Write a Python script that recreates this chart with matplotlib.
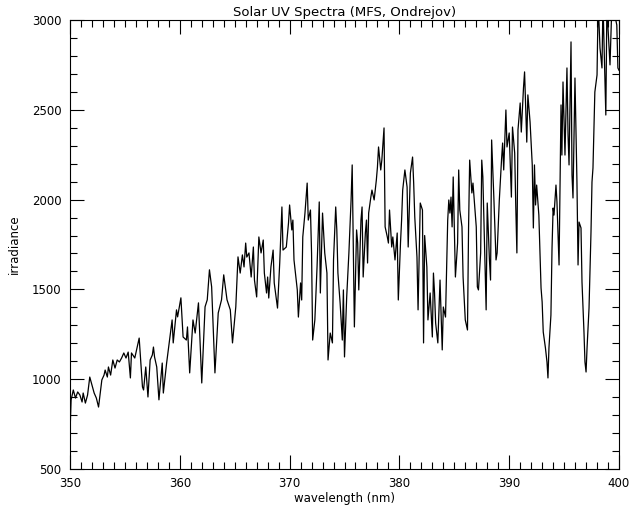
import matplotlib
matplotlib.use('Agg')
import matplotlib.pyplot as plt
from matplotlib.ticker import MultipleLocator

# wavelength (nm) and irradiance
wavelength = [
    350.0, 350.1, 350.3, 350.5, 350.7, 350.9, 351.1, 351.2, 351.4, 351.6,
    351.8, 352.0, 352.2, 352.4, 352.6, 352.9, 353.1, 353.2, 353.4, 353.5,
    353.7, 353.9, 354.1, 354.3, 354.5, 354.7, 354.9, 355.1, 355.3, 355.5,
    355.6, 355.9, 356.1, 356.3, 356.6, 356.7, 356.9, 357.1, 357.3, 357.5,
    357.6, 357.7, 357.9, 358.1, 358.4, 358.5, 358.8, 359.3, 359.4, 359.7,
    359.8, 360.1, 360.3, 360.6, 360.7, 360.9, 361.2, 361.4, 361.7, 362.0,
    362.3, 362.5, 362.7, 362.9, 363.2, 363.5, 363.8, 364.0, 364.3, 364.6,
    364.8, 365.1, 365.3, 365.5, 365.7, 365.85, 366.0, 366.1, 366.3, 366.5,
    366.7, 366.8, 367.0, 367.2, 367.4, 367.6, 367.7, 367.9, 368.0, 368.1,
    368.3, 368.5, 368.6, 368.9, 369.1, 369.3, 369.4, 369.7, 369.9, 370.0,
    370.2, 370.3, 370.4, 370.7, 370.8, 371.0, 371.1, 371.2, 371.4, 371.6,
    371.7, 371.9, 372.0, 372.1, 372.3, 372.5, 372.7, 372.8, 373.0, 373.2,
    373.4, 373.5, 373.7, 373.9, 374.0, 374.2, 374.3, 374.4, 374.6, 374.8,
    374.9, 375.0, 375.2, 375.4, 375.6, 375.7, 375.9, 376.1, 376.2, 376.3,
    376.5, 376.6, 376.7, 376.9, 377.0, 377.1, 377.2, 377.4, 377.5, 377.7,
    377.9, 378.0, 378.1, 378.3, 378.4, 378.6, 378.7, 378.9, 379.0, 379.1,
    379.3, 379.4, 379.6, 379.8, 379.9, 380.1, 380.2, 380.3, 380.5, 380.7,
    380.8, 381.0, 381.2, 381.3, 381.4, 381.6, 381.7, 381.9, 382.1, 382.2,
    382.3, 382.5, 382.6, 382.8, 383.0, 383.1, 383.2, 383.3, 383.5, 383.7,
    383.9, 384.0, 384.2, 384.4, 384.5, 384.6, 384.7, 384.8, 384.9, 385.1,
    385.3, 385.4, 385.5, 385.7, 385.8, 386.0, 386.2, 386.3, 386.4, 386.6,
    386.7, 386.9, 387.0, 387.1, 387.2, 387.4, 387.5, 387.6, 387.9, 388.0,
    388.2, 388.3, 388.4, 388.6, 388.8, 388.9, 389.1, 389.3, 389.4, 389.5,
    389.7, 389.8, 390.0, 390.2, 390.3, 390.5, 390.6, 390.7, 390.8, 391.0,
    391.1, 391.3, 391.4, 391.6, 391.7, 391.9, 392.1, 392.2, 392.3, 392.4,
    392.5, 392.7, 392.9, 393.0, 393.1, 393.3, 393.44, 393.53, 393.62, 393.8,
    393.9, 394.0, 394.08, 394.26, 394.35, 394.54, 394.72, 394.8, 394.9, 395.08,
    395.26, 395.36, 395.45, 395.63, 395.72, 395.81, 395.99, 396.17, 396.27, 396.36,
    396.54, 396.63, 396.81, 396.9, 397.0, 397.09, 397.27, 397.45, 397.54, 397.63,
    397.8, 398.0, 398.1, 398.27, 398.45, 398.54, 398.72, 398.8, 398.9, 399.0,
    399.18, 399.36, 399.54, 399.8, 399.9, 400.0,
]
irradiance = [
    700, 884, 940, 895, 929, 912, 873, 923, 867, 912,
    1012, 968, 923, 895, 845, 996, 1023, 1051, 1012, 1068,
    1023, 1107, 1062, 1107, 1096, 1118, 1146, 1118, 1151, 1007,
    1146, 1118, 1174, 1229, 957, 940, 1068, 901, 1107, 1135,
    1179, 1124, 1068, 885, 1090, 923, 1090, 1330, 1202, 1386,
    1347, 1453, 1235, 1218, 1291, 1035, 1330, 1257, 1425, 979,
    1403, 1442, 1609, 1514, 1035, 1369, 1442, 1581, 1442, 1386,
    1202, 1403, 1681, 1591, 1692, 1625, 1758, 1680, 1703, 1569,
    1736, 1552, 1458, 1792, 1703, 1775, 1591, 1480, 1569, 1452,
    1625, 1719, 1536, 1396, 1647, 1959, 1719, 1736, 1870, 1970,
    1831, 1886, 1664, 1497, 1346, 1536, 1441, 1792, 1925, 2092,
    1886, 1942, 1703, 1218, 1330, 1625, 1987, 1480, 1925, 1703,
    1591, 1107, 1257, 1202, 1664, 1959, 1831, 1591, 1425, 1218,
    1497, 1124, 1458, 1703, 1998, 2193, 1291, 1831, 1758, 1497,
    1886, 1959, 1569, 1814, 1886, 1647, 1925, 2014, 2053, 1998,
    2109, 2181, 2293, 2165, 2220, 2399, 1848, 1792, 1758, 1942,
    1736, 1792, 1664, 1814, 1441, 1758, 1886, 2053, 2165, 2070,
    1736, 2148, 2237, 2092, 1903, 1680, 1386, 1981, 1942, 1202,
    1800, 1625, 1330, 1480, 1235, 1591, 1480, 1313, 1202, 1552,
    1163, 1402, 1346, 1886, 1998, 1925, 2014, 1848, 2126, 1569,
    1758, 2165, 1942, 1848, 1569, 1330, 1274, 1848, 2220, 2037,
    2092, 1925, 1848, 1514, 1497, 1703, 2220, 2126, 1386, 1981,
    1664, 1552, 2332, 2014, 1664, 1703, 1998, 2220, 2315, 2165,
    2499, 2293, 2371, 2014, 2404, 2259, 1959, 1703, 2388, 2538,
    2376, 2621, 2711, 2320, 2583, 2432, 2193, 1842, 2193, 1970,
    2081, 1914, 1508, 1430, 1263, 1174, 1096, 1007, 1174, 1357,
    1730, 1953, 1914, 2081, 1987, 1636, 2527, 2248, 2655, 2248,
    2733, 2360, 2193, 2878, 2137, 2009, 2677, 2098, 1636, 1875,
    1842, 1541, 1263, 1096, 1040, 1174, 1396, 1820, 2098, 2176,
    2599, 2694, 3100, 2844, 2733, 3100, 2655, 2471, 3100, 2955,
    2750, 3100, 3050, 2972, 2733, 2720,
]

fig = plt.figure(figsize=(6.36, 5.08), dpi=100)
ax = fig.add_axes([70 / 636, 1 - 469 / 508, 549 / 636, 449 / 508])

ax.plot(wavelength, irradiance, color='black', linewidth=0.9)

ax.set_xlim(350, 400)
ax.set_ylim(500, 3000)
ax.xaxis.set_major_locator(MultipleLocator(10))
ax.xaxis.set_minor_locator(MultipleLocator(1))
ax.yaxis.set_major_locator(MultipleLocator(500))
ax.yaxis.set_minor_locator(MultipleLocator(100))
ax.tick_params(which='both', direction='in', top=True, right=True,
               labelsize=8.5, width=0.8)
ax.tick_params(which='major', length=10, pad=6)
ax.tick_params(which='minor', length=5)
for s in ax.spines.values():
    s.set_linewidth(0.8)

ax.set_xlabel('wavelength (nm)', fontsize=8.5, labelpad=1)
ax.set_ylabel('irradiance', fontsize=8.5, labelpad=8)
ax.set_title('Solar UV Spectra (MFS, Ondrejov)', fontsize=9.5, pad=3)

fig.savefig('out.png', dpi=100)
